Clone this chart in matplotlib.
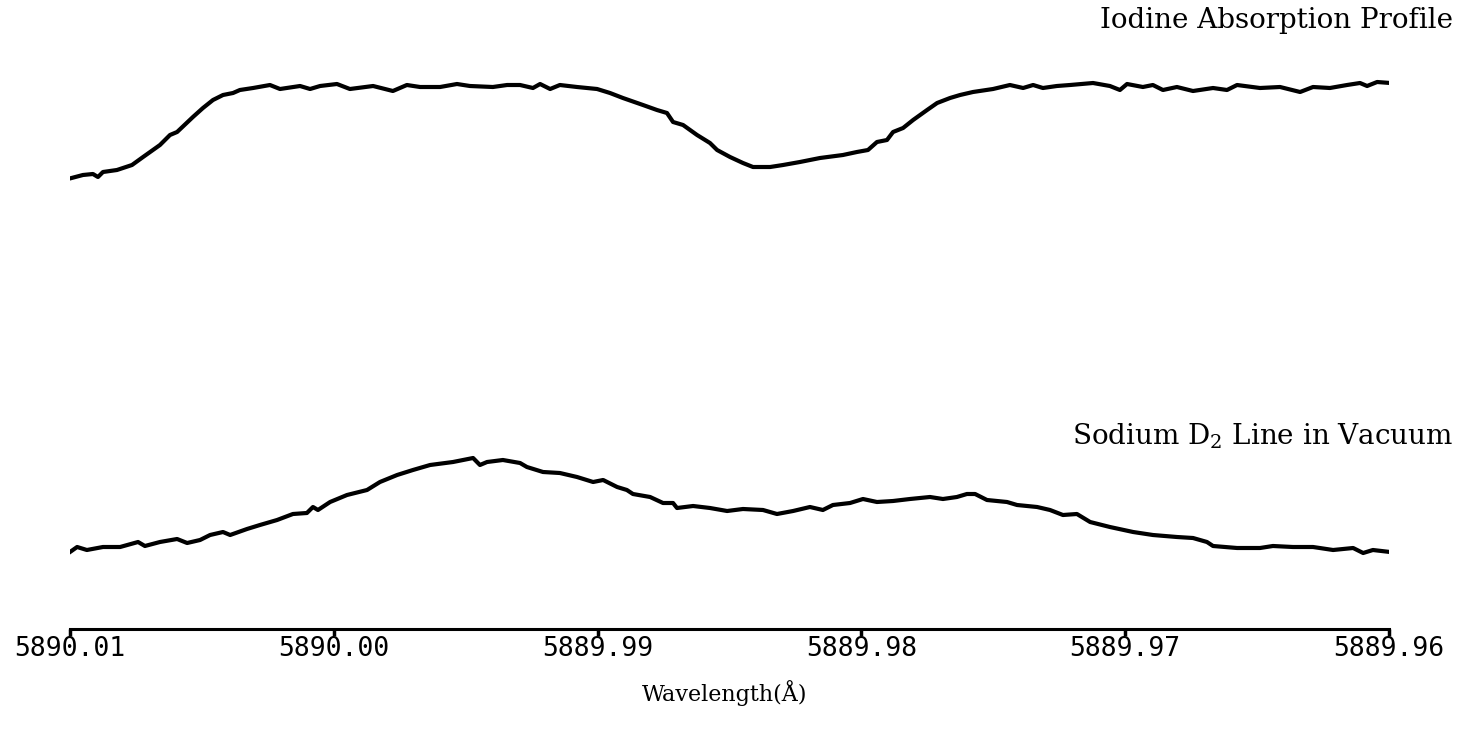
import matplotlib
matplotlib.use('Agg')
import matplotlib.pyplot as plt
import numpy as np

# wavelength offsets below 5890.01 A, in milli-angstrom
START_WL = 5890.01

iodine_dl = [0.06, 0.49, 0.87, 1.06, 1.25, 1.78, 2.35, 2.77, 3.41, 3.79, 4.06, 4.66,
             5.04, 5.42, 5.80, 6.18, 6.44, 6.94, 7.58, 7.96, 8.72, 9.10, 9.48, 10.12,
             10.61, 11.49, 12.24, 12.77, 13.27, 14.03, 14.67, 15.16, 16.03, 16.57, 17.06,
             17.55, 17.82, 18.20, 18.57, 19.22, 19.98, 20.47, 20.96, 21.72, 22.25, 22.63,
             22.86, 23.24, 23.77, 24.26, 24.53, 25.02, 25.51, 25.89, 26.54, 27.03, 27.67,
             28.43, 29.30, 29.83, 30.25, 30.59, 30.97, 31.20, 31.58, 31.96, 32.49, 32.87,
             33.36, 33.74, 34.23, 34.99, 35.63, 36.13, 36.51, 36.88, 37.41, 37.91, 38.78,
             39.42, 39.80, 40.07, 40.67, 41.05, 41.43, 41.96, 42.57, 43.33, 43.86, 44.24,
             45.11, 45.87, 46.63, 47.12, 47.76, 48.41, 48.90, 49.17, 49.55, 50.05]
iodine_sig = [45.1, 45.4, 45.5, 45.2, 45.7, 45.9, 46.4, 47.2, 48.4, 49.4, 49.7, 51.2,
              52.1, 52.9, 53.4, 53.6, 53.9, 54.1, 54.4, 54.0, 54.3, 54.0, 54.3, 54.5,
              54.0, 54.3, 53.8, 54.4, 54.2, 54.2, 54.5, 54.3, 54.2, 54.4, 54.4,
              54.1, 54.5, 54.0, 54.4, 54.2, 54.0, 53.6, 53.1, 52.4, 51.9, 51.6,
              50.7, 50.4, 49.4, 48.6, 47.9, 47.2, 46.6, 46.2, 46.2, 46.4, 46.7,
              47.1, 47.4, 47.7, 47.9, 48.7, 48.9, 49.7, 50.1, 50.9, 51.9, 52.6,
              53.1, 53.4, 53.7, 54.0, 54.4, 54.1, 54.4, 54.1, 54.3, 54.4, 54.6,
              54.3, 53.9, 54.5, 54.2, 54.4, 53.9, 54.2, 53.8, 54.1, 53.9, 54.4,
              54.1, 54.2, 53.7, 54.2, 54.1, 54.4, 54.6, 54.3, 54.7, 54.6]

sodium_dl = [0.00, 0.27, 0.64, 1.25, 1.90, 2.58, 2.84, 3.41, 4.06, 4.44, 4.93, 5.31,
             5.80, 6.07, 6.71, 7.20, 7.85, 8.45, 8.98, 9.21, 9.40, 9.86, 10.50, 11.26,
             11.75, 12.40, 13.00, 13.65, 14.52, 15.28, 15.54, 15.81, 16.41, 17.06,
             17.32, 17.93, 18.57, 19.22, 19.83, 20.21, 20.74, 21.11, 21.34, 21.99, 22.48,
             22.86, 23.01, 23.62, 24.26, 24.91, 25.51, 26.27, 26.80, 27.41, 28.05, 28.54,
             28.92, 29.57, 30.06, 30.59, 31.20, 31.84, 32.60, 33.09, 33.62, 34.00,
             34.31, 34.76, 35.52, 35.90, 36.66, 37.15, 37.64, 38.17, 38.67, 39.42, 40.30,
             41.05, 41.96, 42.57, 43.10, 43.33, 44.24, 45.11, 45.60, 46.36, 47.12, 47.88,
             48.64, 49.02, 49.39, 50.04]
sodium_sig = [7.7, 8.2, 7.9, 8.2, 8.2, 8.7, 8.3, 8.7, 9.0, 8.6, 8.9, 9.4,
              9.7, 9.4, 10.0, 10.4, 10.9, 11.5, 11.6, 12.2, 11.9, 12.7, 13.4, 13.9,
              14.7, 15.4, 15.9, 16.4, 16.7, 17.1, 16.4, 16.7, 16.9, 16.6,
              16.2, 15.7, 15.6, 15.2, 14.7, 14.9, 14.2, 13.9, 13.5, 13.2, 12.6,
              12.6, 12.1, 12.3, 12.1, 11.8, 12.0, 11.9, 11.5, 11.8, 12.2, 11.9,
              12.4, 12.6, 13.0, 12.7, 12.8, 13.0, 13.2, 13.0, 13.2, 13.5,
              13.5, 12.9, 12.7, 12.4, 12.2, 11.9, 11.4, 11.5, 10.7, 10.2, 9.7,
              9.4, 9.2, 9.1, 8.7, 8.3, 8.1, 8.1, 8.3, 8.2, 8.2, 7.9,
              8.1, 7.6, 7.9, 7.7]

tick_values = [5890.01, 5890.00, 5889.99, 5889.98, 5889.97, 5889.96]
tick_labels = ['5890.01', '5890.00', '5889.99', '5889.98', '5889.97', '5889.96']

plt.rcParams['mathtext.fontset'] = 'dejavuserif'

W, H = 1459, 739
fig = plt.figure(figsize=(W / 100, H / 100), dpi=100)
ax = fig.add_axes([70 / W, 110 / H, (1389 - 70) / W, 629 / H])

iod_wl = START_WL - np.array(iodine_dl) / 1000
na_wl = START_WL - np.array(sodium_dl) / 1000
ax.plot(iod_wl, iodine_sig, color='black', lw=3, solid_joinstyle='round')
ax.plot(na_wl, sodium_sig, color='black', lw=3, solid_joinstyle='round')

ax.set_xlim(5890.01, 5889.96)
ax.set_ylim(0, 62.9)
for side in ['top', 'right', 'left']:
    ax.spines[side].set_visible(False)
ax.spines['bottom'].set_linewidth(2.2)
ax.set_yticks([])
ax.set_xticks(tick_values)
ax.set_xticklabels(tick_labels, family='DejaVu Sans Mono', fontsize=19)
ax.tick_params(axis='x', direction='out', length=5, width=2.5, pad=0)

fig.text(0.497, 0.052, 'Wavelength(Å)', family='DejaVu Serif', fontsize=16,
         ha='center', va='baseline')
fig.text(0.996, 0.962, 'Iodine Absorption Profile', family='DejaVu Serif',
         fontsize=20, ha='right', va='baseline')
fig.text(0.996, 0.398, r'Sodium D$_2$ Line in Vacuum', family='DejaVu Serif',
         fontsize=20, ha='right', va='baseline')

fig.savefig('out.png', dpi=100)
